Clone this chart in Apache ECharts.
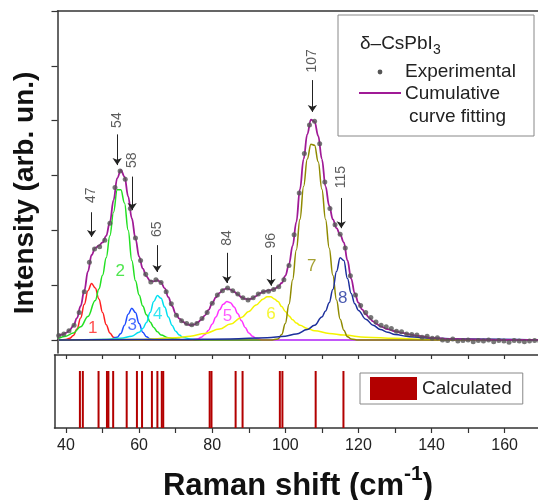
<!DOCTYPE html>
<html>
<head>
<meta charset="utf-8">
<script src="https://cdn.jsdelivr.net/npm/echarts@6/dist/echarts.min.js"></script>
<style>
  html, body { margin: 0; padding: 0; background: #fff; }
  #main { width: 538px; height: 500px; }
</style>
</head>
<body>
<div id="main"></div>
<script>
var FONT = '"Liberation Sans", Arial, sans-serif';

// experimental spectrum: one reading every 1.4 cm-1 from 38 cm-1
var expStart = 38, expStep = 1.4;
var expIntensity = [
  0.08, 0.11, 0.17, 0.27, 0.5, 0.88, 1.42, 1.66, 1.7, 1.82,
  2.13, 2.78, 3.08, 2.93, 2.4, 1.86, 1.45, 1.2, 1.06, 1.1,
  1.05, 0.88, 0.66, 0.45, 0.35, 0.3, 0.28, 0.3, 0.39, 0.5,
  0.67, 0.82, 0.9, 0.95, 0.9, 0.84, 0.77, 0.73, 0.77, 0.84,
  0.88, 0.89, 0.92, 0.97, 1.1, 1.36, 1.92, 2.68, 3.4, 3.92,
  3.99, 3.58, 2.88, 2.4, 2.1, 1.93, 1.68, 1.17, 0.82, 0.63,
  0.5, 0.41, 0.33, 0.27, 0.24, 0.21, 0.16, 0.15, 0.11, 0.1,
  0.09, 0.05, 0.07, 0.03, 0.04, 0.0, -0.01, 0.02, -0.02, -0.01,
  0.0, -0.03, -0.01, -0.02, 0.0, -0.03, -0.01, -0.02, -0.04, -0.01,
  -0.02, -0.03, -0.02, -0.01, -0.02
];

// cumulative curve fitting
var fitShift = [
  38, 39, 40, 41, 42, 43, 44, 45, 46, 47, 48, 49, 50, 51, 52, 53, 54, 55, 56, 57,
  58, 59, 60, 61, 62, 63, 64, 65, 66, 67, 68, 69, 70, 71, 72, 73, 74, 75, 76, 77,
  78, 79, 80, 81, 82, 83, 84, 85, 86, 87, 88, 89, 90, 91, 92, 93, 94, 95, 96, 97,
  98, 99, 100, 101, 102, 103, 104, 105, 106, 107, 108, 109, 110, 111, 112, 113, 114, 115, 116, 117,
  118, 119, 120, 121, 122, 123, 124, 125, 126, 128, 130, 132, 134, 136, 138, 140, 145, 150, 160, 170
];
var fitIntensity = [
  0.08, 0.1, 0.13, 0.18, 0.26, 0.4, 0.62, 0.9, 1.25, 1.55, 1.68, 1.72, 1.78, 1.9, 2.15, 2.55, 2.95, 3.1, 2.98, 2.62,
  2.22, 1.85, 1.52, 1.3, 1.16, 1.08, 1.07, 1.09, 1.05, 0.94, 0.78, 0.62, 0.48, 0.39, 0.33, 0.29, 0.27, 0.28, 0.32, 0.37,
  0.45, 0.55, 0.67, 0.78, 0.86, 0.92, 0.94, 0.92, 0.88, 0.83, 0.78, 0.75, 0.74, 0.76, 0.8, 0.85, 0.88, 0.9, 0.91, 0.93,
  0.97, 1.04, 1.17, 1.38, 1.72, 2.15, 2.75, 3.3, 3.75, 4.02, 3.98, 3.72, 3.3, 2.8, 2.45, 2.2, 2.04, 1.92, 1.78, 1.45,
  1.12, 0.85, 0.68, 0.56, 0.47, 0.4, 0.34, 0.29, 0.25, 0.2, 0.16, 0.13, 0.1, 0.08, 0.06, 0.04, 0.02, 0.01, 0.0, 0.0
];

// fitted components 1..8
var peak1Shift = [38, 40, 41, 42, 43, 44, 45, 46, 47, 48, 49, 50, 51, 52, 53, 54, 55, 170];
var peak1Int   = [0, 0.01, 0.03, 0.08, 0.2, 0.4, 0.65, 0.9, 1.03, 0.95, 0.75, 0.5, 0.28, 0.13, 0.05, 0.01, 0, 0];
var peak2Shift = [38, 40, 42, 44, 46, 48, 49, 50, 51, 52, 53, 54, 55, 56, 57, 58, 59, 60, 61, 62, 63, 64, 65, 66, 68, 70, 72, 170];
var peak2Int   = [0.03, 0.07, 0.13, 0.24, 0.43, 0.72, 0.93, 1.18, 1.5, 1.9, 2.33, 2.74, 2.74, 2.5, 2.0, 1.45, 1.08, 0.82, 0.62, 0.46, 0.33, 0.23, 0.15, 0.09, 0.04, 0.02, 0, 0];
var peak3Shift = [38, 52, 54, 55, 56, 57, 58, 59, 60, 61, 62, 63, 65, 170];
var peak3Int   = [0, 0.01, 0.05, 0.12, 0.27, 0.47, 0.58, 0.5, 0.3, 0.14, 0.06, 0.02, 0, 0];
var peak4Shift = [38, 50, 55, 58, 60, 61, 62, 63, 64, 65, 66, 67, 68, 69, 70, 71, 72, 74, 78, 170];
var peak4Int   = [0, 0.01, 0.03, 0.07, 0.14, 0.21, 0.32, 0.5, 0.7, 0.81, 0.76, 0.6, 0.42, 0.27, 0.16, 0.09, 0.05, 0.02, 0, 0];
var peak5Shift = [38, 74, 76, 77, 78, 79, 80, 81, 82, 83, 84, 85, 86, 87, 88, 89, 90, 91, 92, 94, 170];
var peak5Int   = [0, 0, 0.02, 0.05, 0.1, 0.18, 0.29, 0.42, 0.55, 0.65, 0.7, 0.68, 0.6, 0.48, 0.35, 0.23, 0.13, 0.07, 0.03, 0, 0];
var peak6Shift = [38, 60, 70, 74, 78, 82, 85, 88, 90, 92, 94, 95, 96, 97, 98, 99, 100, 101, 102, 103, 104, 106, 108, 112, 116, 122, 130, 140, 170];
var peak6Int   = [0, 0.01, 0.04, 0.07, 0.12, 0.2, 0.29, 0.41, 0.52, 0.64, 0.75, 0.79, 0.79, 0.75, 0.7, 0.61, 0.52, 0.44, 0.37, 0.31, 0.27, 0.21, 0.17, 0.12, 0.09, 0.05, 0.03, 0.01, 0];
var peak7Shift = [38, 96, 98, 99, 100, 101, 102, 103, 104, 105, 106, 107, 108, 109, 110, 111, 112, 113, 114, 115, 116, 117, 118, 120, 170];
var peak7Int   = [0, 0, 0.02, 0.1, 0.3, 0.65, 1.1, 1.64, 2.2, 2.8, 3.3, 3.57, 3.55, 3.25, 2.75, 2.2, 1.68, 1.18, 0.73, 0.38, 0.18, 0.06, 0.02, 0, 0];
var peak8Shift = [38, 70, 85, 95, 100, 103, 106, 108, 110, 111, 112, 113, 114, 115, 116, 117, 118, 119, 120, 122, 124, 126, 128, 130, 134, 140, 150, 170];
var peak8Int   = [0, 0.01, 0.02, 0.04, 0.07, 0.11, 0.19, 0.27, 0.42, 0.53, 0.68, 0.92, 1.25, 1.5, 1.45, 1.12, 0.85, 0.66, 0.54, 0.38, 0.27, 0.19, 0.14, 0.1, 0.06, 0.03, 0.02, 0];

var compShifts = [peak1Shift, peak2Shift, peak3Shift, peak4Shift, peak5Shift, peak6Shift, peak7Shift, peak8Shift];
var compInts = [peak1Int, peak2Int, peak3Int, peak4Int, peak5Int, peak6Int, peak7Int, peak8Int];
var compNames = ['1', '2', '3', '4', '5', '6', '7', '8'];
var compColors = ['#ff1f1f', '#22e022', '#1f4cff', '#00e0f0', '#ff33ff', '#f4f400', '#8f8a00', '#1c2f9c'];
var compLabelShift = [47.3, 54.8, 58.1, 65.1, 84.2, 96.1, 107.2, 115.7];
var compLabelInt = [0.22, 1.26, 0.26, 0.46, 0.43, 0.46, 1.34, 0.76];

// marked peak positions (cm-1) with arrows
var peakNames = ['47', '54', '58', '65', '84', '96', '107', '115'];
var peakShift = [47, 54, 58.1, 64.9, 84, 96.1, 107.4, 115.3];
var peakLabelInt = [2.64, 4.01, 3.28, 2.02, 1.86, 1.81, 5.09, 2.97];
var arrowFromInt = [2.33, 3.75, 2.98, 1.73, 1.59, 1.55, 4.74, 2.59];
var arrowToInt = [1.88, 3.19, 2.37, 1.24, 1.04, 0.99, 4.16, 2.04];

// calculated Raman modes
var calcShift = [43.8, 44.6, 48.9, 51.2, 51.6, 52.9, 56.6, 59.4, 60.8, 63.5, 65.0,
                 66.2, 66.6, 79.3, 79.8, 86.4, 88.3, 98.5, 99.2, 108.3, 115.9];

var xTicks = [40, 50, 60, 70, 80, 90, 100, 110, 120, 130, 140, 150, 160, 170];
var xLabels = [40, 60, 80, 100, 120, 140, 160];
var yTicks = [0, 1, 2, 3, 4, 5, 6];

var chart = echarts.init(document.getElementById('main'));

function pairs(xs, ys) {
  return xs.map(function (x, i) { return [x, ys[i]]; });
}

var expData = expIntensity.map(function (v, i) {
  return [expStart + i * expStep, v];
});

var axisCol = '#333';
var series = [];

compNames.forEach(function (name, i) {
  series.push({
    name: 'peak ' + name,
    type: 'line',
    xAxisIndex: 0, yAxisIndex: 0,
    data: pairs(compShifts[i], compInts[i]),
    smooth: 0.4,
    smoothMonotone: 'x',
    showSymbol: false,
    lineStyle: { color: compColors[i], width: 1.5 },
    z: 2
  });
});

series.push({
  name: 'Cumulative curve fitting',
  type: 'line',
  xAxisIndex: 0, yAxisIndex: 0,
  data: pairs(fitShift, fitIntensity),
  smooth: 0.4,
  smoothMonotone: 'x',
  showSymbol: false,
  lineStyle: { color: '#a01a96', width: 1.8 },
  z: 3
});

series.push({
  name: 'Experimental',
  type: 'scatter',
  xAxisIndex: 0, yAxisIndex: 0,
  data: expData,
  symbolSize: 5,
  itemStyle: { color: '#555' },
  z: 4
});

series.push({
  name: 'component labels',
  type: 'scatter',
  xAxisIndex: 0, yAxisIndex: 0,
  symbolSize: 0,
  silent: true,
  data: compNames.map(function (n, i) {
    return {
      value: [compLabelShift[i], compLabelInt[i]],
      name: n,
      label: { color: compColors[i] }
    };
  }),
  label: {
    show: true, position: 'inside', formatter: '{b}',
    fontSize: 17, fontFamily: FONT
  },
  z: 5
});

series.push({
  name: 'peak marks',
  type: 'scatter',
  xAxisIndex: 0, yAxisIndex: 0,
  symbolSize: 0,
  silent: true,
  data: peakNames.map(function (n, i) {
    return { value: [peakShift[i], peakLabelInt[i]], name: n };
  }),
  label: {
    show: true, position: 'inside', formatter: '{b}', rotate: 90,
    fontSize: 14, fontFamily: FONT, color: '#333'
  },
  markLine: {
    silent: true,
    animation: false,
    symbol: ['none', 'arrow'],
    symbolSize: 7,
    label: { show: false },
    lineStyle: { color: '#222', width: 1, type: 'solid' },
    data: peakNames.map(function (n, i) {
      return [{ coord: [peakShift[i], arrowFromInt[i]] }, { coord: [peakShift[i], arrowToInt[i]] }];
    })
  },
  z: 5
});

series.push({
  name: 'Calculated',
  type: 'bar',
  xAxisIndex: 2, yAxisIndex: 1,
  data: calcShift.map(function (x) { return [x, 1]; }),
  barWidth: 2,
  itemStyle: { color: '#b30000' }
});

var option = {
  animation: false,
  backgroundColor: '#fff',
  grid: [
    { left: 57.5, top: 11, width: 483.7, height: 342, outerBoundsMode: 'none' },
    { left: 54.5, top: 355, width: 486.7, height: 73, outerBoundsMode: 'none' }
  ],
  xAxis: [
    {
      type: 'value', gridIndex: 0, position: 'bottom', min: 37.67, max: 170,
      axisLine: { show: true, lineStyle: { color: axisCol, width: 1.5 } },
      axisTick: { show: false }, axisLabel: { show: false }, splitLine: { show: false }
    },
    {
      type: 'value', gridIndex: 0, position: 'top', min: 37.67, max: 170,
      axisLine: { show: true, lineStyle: { color: axisCol, width: 1.5 } },
      axisTick: { show: false }, axisLabel: { show: false }, splitLine: { show: false }
    },
    {
      type: 'value', gridIndex: 1, position: 'bottom', min: 36.85, max: 170,
      axisLine: { show: true, lineStyle: { color: axisCol, width: 1.5 } },
      axisTick: { show: true, length: 5, customValues: xTicks, lineStyle: { color: axisCol, width: 1.2 } },
      axisLabel: {
        show: true, customValues: xLabels, margin: 10,
        fontSize: 16, fontFamily: FONT, color: '#222'
      },
      splitLine: { show: false }
    },
    {
      type: 'value', gridIndex: 1, position: 'top', min: 36.85, max: 170,
      axisLine: { show: true, lineStyle: { color: axisCol, width: 1.5 } },
      axisTick: { show: true, inside: true, length: 4, customValues: xTicks, lineStyle: { color: axisCol, width: 1.2 } },
      axisLabel: { show: false }, splitLine: { show: false }
    }
  ],
  yAxis: [
    {
      type: 'value', gridIndex: 0, min: -0.237, max: 6,
      axisLine: { show: true, lineStyle: { color: axisCol, width: 1.5 } },
      axisTick: { show: true, length: 6, customValues: yTicks, lineStyle: { color: axisCol, width: 1.2 } },
      axisLabel: { show: false }, splitLine: { show: false }
    },
    {
      type: 'value', gridIndex: 1, min: 0, max: 1.28,
      axisLine: { show: true, lineStyle: { color: axisCol, width: 1.5 } },
      axisTick: { show: false }, axisLabel: { show: false }, splitLine: { show: false }
    }
  ],
  legend: {
    data: ['Calculated'],
    selectedMode: false,
    left: 360, top: 373,
    icon: 'rect',
    itemWidth: 47, itemHeight: 23,
    padding: [4, 11, 4, 10],
    borderColor: '#888', borderWidth: 1,
    backgroundColor: '#fff',
    textStyle: { fontSize: 19, fontFamily: FONT, color: '#222' }
  },
  graphic: [
    {
      type: 'text', x: 25, y: 193, rotation: Math.PI / 2,
      style: {
        text: 'Intensity (arb. un.)', x: 0, y: 0,
        font: 'bold 28px ' + FONT, fill: '#111',
        textAlign: 'center', textVerticalAlign: 'middle', align: 'center', verticalAlign: 'middle'
      }
    },
    {
      type: 'text', x: 298, y: 483,
      style: {
        text: '{a|Raman shift (cm}{b|-1}{a|)}', x: 0, y: 0,
        textAlign: 'center', textVerticalAlign: 'middle', align: 'center', verticalAlign: 'middle',
        fill: '#111',
        rich: {
          a: { fontSize: 31, fontWeight: 'bold', fontFamily: FONT, lineHeight: 38, verticalAlign: 'bottom', fill: '#111' },
          b: { fontSize: 21, fontWeight: 'bold', fontFamily: FONT, lineHeight: 21, verticalAlign: 'top', fill: '#111' }
        }
      }
    },
    {
      type: 'group',
      children: [
        {
          type: 'rect', shape: { x: 338, y: 15, width: 196, height: 121 },
          style: { fill: '#fff', stroke: '#888', lineWidth: 1 }
        },
        {
          type: 'text', x: 360, y: 44,
          style: { text: 'δ–CsPbI', x: 0, y: 0, font: '19px ' + FONT, fill: '#222', textVerticalAlign: 'middle', verticalAlign: 'middle' }
        },
        {
          type: 'text', x: 433, y: 50,
          style: { text: '3', x: 0, y: 0, font: '14px ' + FONT, fill: '#222', textVerticalAlign: 'middle', verticalAlign: 'middle' }
        },
        {
          type: 'circle', shape: { cx: 380, cy: 72, r: 2.4 },
          style: { fill: '#555' }
        },
        {
          type: 'text', x: 405, y: 72,
          style: { text: 'Experimental', x: 0, y: 0, font: '19px ' + FONT, fill: '#222', textVerticalAlign: 'middle', verticalAlign: 'middle' }
        },
        {
          type: 'line', shape: { x1: 359, y1: 93, x2: 401, y2: 93 },
          style: { stroke: '#a01a96', lineWidth: 1.8 }
        },
        {
          type: 'text', x: 405, y: 94,
          style: { text: 'Cumulative', x: 0, y: 0, font: '19px ' + FONT, fill: '#222', textVerticalAlign: 'middle', verticalAlign: 'middle' }
        },
        {
          type: 'text', x: 409, y: 117,
          style: { text: 'curve fitting', x: 0, y: 0, font: '19px ' + FONT, fill: '#222', textVerticalAlign: 'middle', verticalAlign: 'middle' }
        }
      ]
    }
  ],
  series: series
};

chart.setOption(option);
</script>
</body>
</html>
